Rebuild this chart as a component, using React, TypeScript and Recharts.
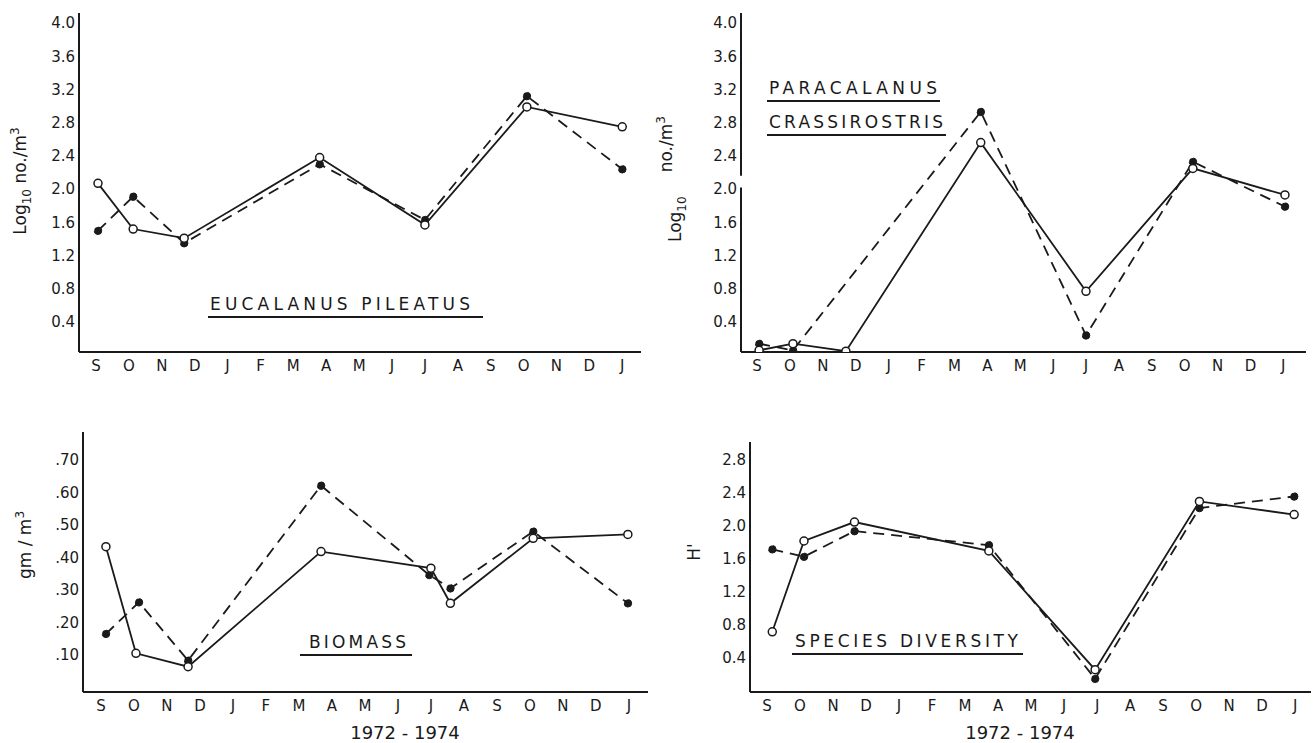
import React from "react";
import {
  LineChart,
  Line,
  XAxis,
  YAxis,
  ReferenceLine,
  Customized,
} from "recharts";

// x positions are months from the first September (S = 0 ... J = 16)
const months = ["S", "O", "N", "D", "J", "F", "M", "A", "M", "J", "J", "A", "S", "O", "N", "D", "J"];
const monthTicks = months.map((_, i) => i);

// Eucalanus pileatus (log10 no./m3)
const eucDates = [0.06, 1.13, 2.68, 6.8, 10.0, 13.1, 16.0];
const eucOpen = [2.07, 1.52, 1.41, 2.38, 1.57, 2.99, 2.75];
const eucFilled = [1.5, 1.91, 1.35, 2.3, 1.63, 3.12, 2.24];

// Paracalanus crassirostris (log10 no./m3)
const paraOpenDates = [0.06, 1.09, 2.7, 6.8, 10.0, 13.25, 16.05];
const paraOpen = [0.06, 0.14, 0.05, 2.56, 0.77, 2.25, 1.93];
const paraFilledDates = [0.06, 1.09, 6.8, 10.0, 13.25, 16.05];
const paraFilled = [0.14, 0.06, 2.93, 0.24, 2.33, 1.79];

// Biomass (gm/m3)
const bioOpenDates = [0.15, 1.06, 2.64, 6.67, 10.0, 10.59, 13.1, 15.97];
const bioOpen = [0.433, 0.105, 0.064, 0.418, 0.367, 0.259, 0.459, 0.471];
const bioFilledDates = [0.15, 1.15, 2.64, 6.67, 9.95, 10.59, 13.1, 15.97];
const bioFilled = [0.165, 0.262, 0.083, 0.621, 0.346, 0.305, 0.48, 0.259];

// Species diversity (H')
const divDates = [0.16, 1.12, 2.65, 6.72, 9.94, 13.1, 15.97];
const divOpen = [0.72, 1.82, 2.05, 1.7, 0.26, 2.3, 2.14];
const divFilled = [1.72, 1.63, 1.94, 1.77, 0.15, 2.22, 2.36];

const logTicks = [0.4, 0.8, 1.2, 1.6, 2.0, 2.4, 2.8, 3.2, 3.6, 4.0];
const bioTicks = [0.1, 0.2, 0.3, 0.4, 0.5, 0.6, 0.7];
const divTicks = [0.4, 0.8, 1.2, 1.6, 2.0, 2.4, 2.8];

const toPoints = (xs: number[], ys: number[]) => xs.map((m, i) => ({ m, v: ys[i] }));

const INK = "#1a1a1a";
const FONT = "'DejaVu Sans', sans-serif";
const yTickStyle = { fontFamily: FONT, fontSize: 15, fill: INK };
const xTickStyle = { fontFamily: FONT, fontSize: 15, fill: INK };
const openDot = { r: 4, fill: "#fff", stroke: INK, strokeWidth: 1.5 };
const filledDot = { r: 3.8, fill: INK, stroke: INK, strokeWidth: 1 };

function Title({ lines }: { lines: { text: string; x: number; y: number; w: number; ux1: number; ux2: number }[] }) {
  return (
    <g>
      {lines.map((l) => (
        <g key={l.text}>
          <text
            x={l.x}
            y={l.y}
            textLength={l.w}
            lengthAdjust="spacing"
            fontFamily={FONT}
            fontSize={17}
            fill={INK}
          >
            {l.text}
          </text>
          <line x1={l.ux1} x2={l.ux2} y1={l.y + 7} y2={l.y + 7} stroke={INK} strokeWidth={2} />
        </g>
      ))}
    </g>
  );
}

function RotLabel({ x, y, children, anchor = "middle" }: any) {
  return (
    <text
      x={x}
      y={y}
      transform={`rotate(-90, ${x}, ${y})`}
      textAnchor={anchor}
      fontFamily={FONT}
      fontSize={17}
      fill={INK}
    >
      {children}
    </text>
  );
}

interface PanelProps {
  left: number;
  top: number;
  width: number;
  height: number;
  margin: { top: number; right: number; bottom: number; left: number };
  yWidth: number;
  xHeight: number;
  xDomain: [number, number];
  yDomain: [number, number];
  yTicks: number[];
  yFormat: (v: number) => string;
  open: { m: number; v: number }[];
  filled: { m: number; v: number }[];
  yLabel: React.ReactNode;
  title: React.ReactNode;
  xLabel?: { x: number; y: number };
  yAxisLine?: boolean;
  children?: React.ReactNode;
}

function Panel(p: PanelProps) {
  return (
    <div style={{ position: "absolute", left: p.left, top: p.top }}>
      <LineChart width={p.width} height={p.height} margin={p.margin}>
        <XAxis
          type="number"
          dataKey="m"
          domain={p.xDomain}
          ticks={monthTicks}
          interval={0}
          allowDataOverflow
          tickFormatter={(i: number) => months[i]}
          tickLine={false}
          tickSize={0}
          tickMargin={8}
          height={p.xHeight}
          axisLine={{ stroke: INK, strokeWidth: 2 }}
          tick={xTickStyle}
        />
        <YAxis
          type="number"
          dataKey="v"
          domain={p.yDomain}
          ticks={p.yTicks}
          allowDataOverflow
          tickFormatter={p.yFormat}
          tickLine={false}
          tickSize={0}
          tickMargin={4}
          width={p.yWidth}
          axisLine={p.yAxisLine === false ? false : { stroke: INK, strokeWidth: 2 }}
          tick={yTickStyle}
        />
        {p.children}
        <Line
          data={p.filled}
          dataKey="v"
          type="linear"
          stroke={INK}
          strokeWidth={1.8}
          strokeDasharray="11 7"
          dot={filledDot}
          activeDot={false}
          isAnimationActive={false}
        />
        <Line
          data={p.open}
          dataKey="v"
          type="linear"
          stroke={INK}
          strokeWidth={1.8}
          dot={openDot}
          activeDot={false}
          isAnimationActive={false}
        />
        <Customized component={<g>{p.yLabel}</g>} />
        <Customized component={<g>{p.title}</g>} />
        {p.xLabel && (
          <Customized
            component={
              <text
                x={p.xLabel.x}
                y={p.xLabel.y}
                textAnchor="middle"
                fontFamily={FONT}
                fontSize={18}
                fill={INK}
              >
                1972 - 1974
              </text>
            }
          />
        )}
      </LineChart>
    </div>
  );
}

const logLabel = (
  <RotLabel x={26} y={181}>
    Log
    <tspan dy={5} fontSize={12}>10</tspan>
    <tspan dy={-5}> no./m</tspan>
    <tspan dy={-7} fontSize={12}>3</tspan>
  </RotLabel>
);

// top-right panel box starts at x = 645
const paraLabel = (
  <RotLabel x={36} y={242} anchor="start">
    Log
    <tspan dy={5} fontSize={12}>10</tspan>
    <tspan dx={24} dy={-14}>no./m</tspan>
    <tspan dy={-7} fontSize={12}>3</tspan>
  </RotLabel>
);

const bioLabel = (
  <RotLabel x={31} y={165}>
    gm / m<tspan dy={-7} fontSize={12}>3</tspan>
  </RotLabel>
);

const divLabel = <RotLabel x={40} y={172}>H'</RotLabel>;

export default function App() {
  return (
    <div
      style={{
        position: "absolute",
        left: 0,
        top: 0,
        width: 1313,
        height: 743,
        background: "#fff",
        overflow: "hidden",
      }}
    >
      <Panel
        left={0}
        top={0}
        width={645}
        height={385}
        margin={{ top: 13, right: 4, bottom: 0, left: 0 }}
        yWidth={79}
        xHeight={33}
        xDomain={[-0.517, 16.57]}
        yDomain={[0.04, 4.12]}
        yTicks={logTicks}
        yFormat={(v) => v.toFixed(1)}
        open={toPoints(eucDates, eucOpen)}
        filled={toPoints(eucDates, eucFilled)}
        yLabel={logLabel}
        title={
          <Title lines={[{ text: "EUCALANUS  PILEATUS", x: 210, y: 310, w: 260, ux1: 208, ux2: 483 }]} />
        }
      />
      <Panel
        left={645}
        top={0}
        width={668}
        height={385}
        margin={{ top: 13, right: 7, bottom: 0, left: 0 }}
        yWidth={96}
        xHeight={33}
        xDomain={[-0.49, 16.69]}
        yDomain={[0.04, 4.12]}
        yTicks={logTicks}
        yFormat={(v) => v.toFixed(1)}
        open={toPoints(paraOpenDates, paraOpen)}
        filled={toPoints(paraFilledDates, paraFilled)}
        yLabel={paraLabel}
        yAxisLine={false}
        title={
          <Title
            lines={[
              { text: "PARACALANUS", x: 124, y: 94, w: 168, ux1: 122, ux2: 295 },
              { text: "CRASSIROSTRIS", x: 124, y: 128, w: 174, ux1: 122, ux2: 301 },
            ]}
          />
        }
      >
        <ReferenceLine
          segment={[{ x: -0.49, y: 0.04 }, { x: -0.49, y: 2.02 }]}
          stroke={INK}
          strokeWidth={2}
        />
        <ReferenceLine
          segment={[{ x: -0.49, y: 2.16 }, { x: -0.49, y: 4.12 }]}
          stroke={INK}
          strokeWidth={2}
        />
      </Panel>
      <Panel
        left={0}
        top={380}
        width={660}
        height={363}
        margin={{ top: 52, right: 12, bottom: 0, left: 0 }}
        yWidth={83}
        xHeight={51}
        xDomain={[-0.545, 16.58]}
        yDomain={[-0.014, 0.786]}
        yTicks={bioTicks}
        yFormat={(v) => v.toFixed(2).replace(/^0/, "")}
        open={toPoints(bioOpenDates, bioOpen)}
        filled={toPoints(bioFilledDates, bioFilled)}
        yLabel={bioLabel}
        xLabel={{ x: 405, y: 359 }}
        title={<Title lines={[{ text: "BIOMASS", x: 309, y: 268, w: 97, ux1: 300, ux2: 412 }]} />}
      />
      <Panel
        left={660}
        top={380}
        width={653}
        height={363}
        margin={{ top: 62, right: 2, bottom: 0, left: 0 }}
        yWidth={90}
        xHeight={51}
        xDomain={[-0.515, 16.48]}
        yDomain={[-0.01, 3.02]}
        yTicks={divTicks}
        yFormat={(v) => v.toFixed(1)}
        open={toPoints(divDates, divOpen)}
        filled={toPoints(divDates, divFilled)}
        yLabel={divLabel}
        xLabel={{ x: 360, y: 359 }}
        title={
          <Title lines={[{ text: "SPECIES  DIVERSITY", x: 135, y: 267, w: 223, ux1: 132, ux2: 363 }]} />
        }
      />
    </div>
  );
}
